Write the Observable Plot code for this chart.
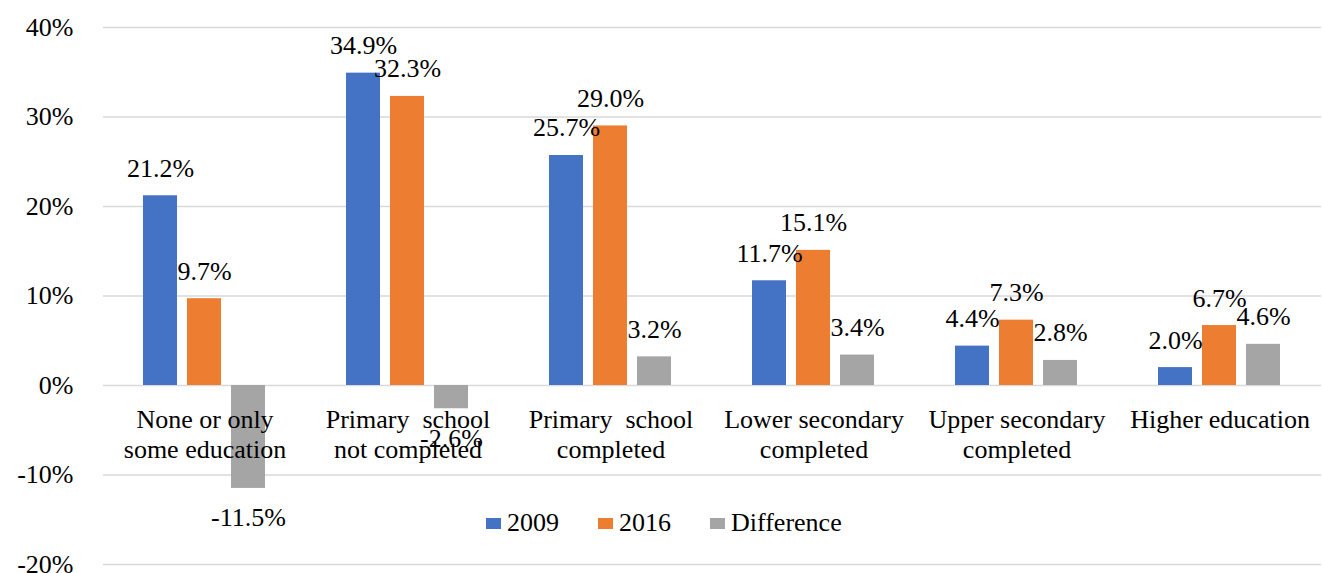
<!DOCTYPE html>
<html>
<head>
<meta charset="utf-8">
<script src="https://cdn.jsdelivr.net/npm/d3@7"></script>
<script src="https://cdn.jsdelivr.net/npm/@observablehq/plot@0.6"></script>
<style>
  html, body { margin: 0; padding: 0; background: #fff; }
  #wrap { position: relative; width: 1322px; height: 573px; overflow: hidden; }
  #legend { position: absolute; left: 486px; top: 509px; display: flex; align-items: center; gap: 39px;
            font-size: 26px; color: #000; line-height: 28px; }
  .item { display: flex; align-items: center; gap: 6px; }
  .sw { width: 15px; height: 11px; display: inline-block; }
</style>
</head>
<body>
<div id="wrap"></div>
<script>
const categories = [
  "None or only\nsome education",
  "Primary  school\nnot completed",
  "Primary  school\ncompleted",
  "Lower secondary\ncompleted",
  "Upper secondary\ncompleted",
  "Higher education"
];
const series = ["2009", "2016", "Difference"];
const values2009 = [21.2, 34.9, 25.7, 11.7, 4.4, 2.0];
const values2016 = [9.7, 32.3, 29.0, 15.1, 7.3, 6.7];
const valuesDiff = [-11.5, -2.6, 3.2, 3.4, 2.8, 4.6];
const yTicks = [-20, -10, 0, 10, 20, 30, 40];
const colors = ["#4472C4", "#ED7D31", "#A5A5A5"];

const font = '"Liberation Serif", "Times New Roman", "DejaVu Serif", serif';

const seriesValues = [values2009, values2016, valuesDiff];
const rows = [];
categories.forEach((c, i) => {
  series.forEach((s, j) => rows.push({category: c, series: s, value: seriesValues[j][i]}));
});

const fmt = d => d.value.toFixed(1) + "%";

const chart = Plot.plot({
  width: 1322,
  height: 573,
  marginTop: 27,
  marginBottom: 9,
  marginLeft: 102,
  marginRight: 0,
  style: {fontFamily: font, fontSize: "26px", color: "#000", background: "#fff"},
  fx: {domain: categories, padding: 0, axis: null},
  x: {domain: series, paddingInner: 0.222, paddingOuter: 0.87, axis: null},
  y: {domain: [-20, 40], axis: null},
  color: {domain: series, range: colors},
  marks: [
    Plot.ruleY(yTicks, {stroke: "#d9d9d9", strokeWidth: 1.5}),
    Plot.barY(rows, {fx: "category", x: "series", y: "value", fill: "series"}),
    Plot.text(rows.filter(d => d.value >= 0), {
      fx: "category", x: "series", y: "value", text: fmt,
      lineAnchor: "bottom", dy: -19, fontSize: 26, fill: "#000"
    }),
    Plot.text(rows.filter(d => d.value < 0), {
      fx: "category", x: "series", y: "value", text: fmt,
      lineAnchor: "bottom", dy: 38, fontSize: 26, fill: "#000"
    }),
    Plot.text(categories, {
      fx: d => d, y: () => 0, text: d => d,
      lineAnchor: "top", dy: 21, lineHeight: 1.154, fontSize: 26, fill: "#000"
    }),
    Plot.axisY({ticks: yTicks, tickFormat: d => d + "%", tickSize: 0, tickPadding: 30, fontSize: 26, label: null})
  ]
});

const wrap = document.getElementById("wrap");
wrap.appendChild(chart);

const legend = document.createElement("div");
legend.id = "legend";
legend.style.fontFamily = font;
series.forEach((s, j) => {
  const item = document.createElement("div");
  item.className = "item";
  const sw = document.createElement("span");
  sw.className = "sw";
  sw.style.background = colors[j];
  const label = document.createElement("span");
  label.textContent = s;
  item.appendChild(sw);
  item.appendChild(label);
  legend.appendChild(item);
});
wrap.appendChild(legend);
</script>
</body>
</html>
